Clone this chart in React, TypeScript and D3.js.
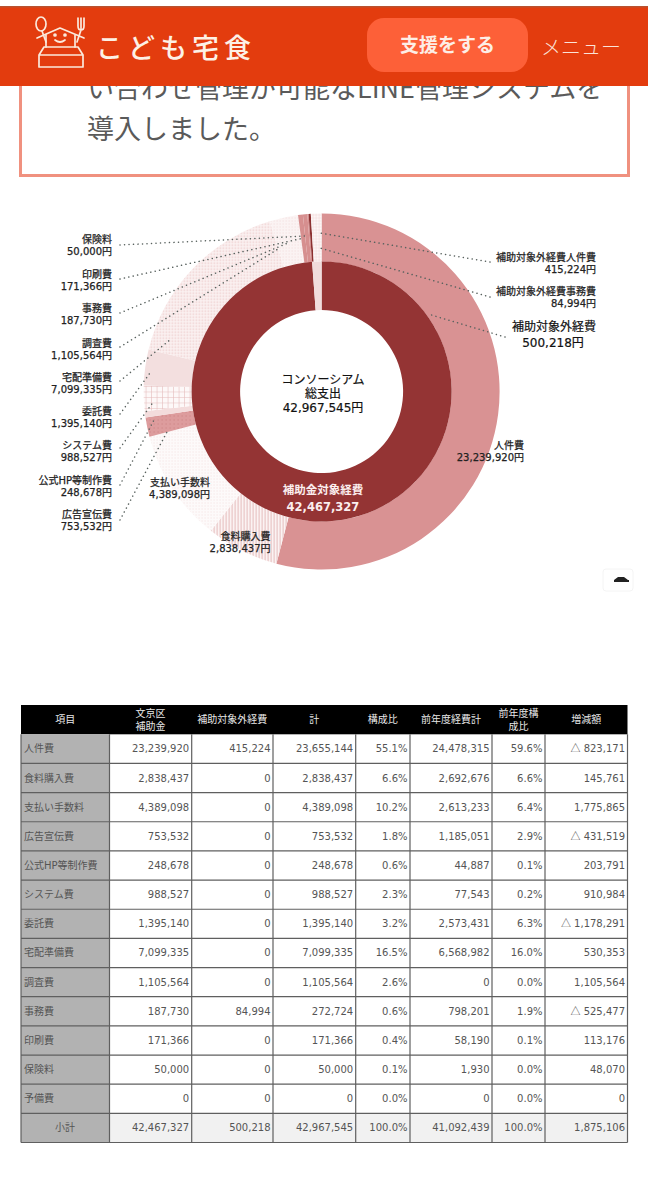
import * as d3 from "d3";

const outerNames = ["人件費", "食料購入費", "支払い手数料", "広告宣伝費", "公式HP等制作費", "システム費", "委託費", "宅配準備費", "調査費", "事務費", "印刷費", "保険料", "補助対象外経費事務費", "補助対象外経費人件費"];
const outerValues = [23239920, 2838437, 4389098, 753532, 248678, 988527, 1395140, 7099335, 1105564, 187730, 171366, 50000, 84994, 415224];
const outerFills = ["#d99293", "url(#stripes)", "url(#fineDots)", "url(#adDots)", "#f3dcdc", "url(#grid)", "#f3dfdf", "url(#checkDots)", "url(#surveyDots)", "#d68f8f", "#d68f8f", "#d68f8f", "#8c3030", "url(#paleGrid)"];

const innerNames = ["補助金対象経費", "補助対象外経費"];
const innerValues = [42467327, 500218];
const innerFills = ["#943434", "#f1dcdc"];

const tableHeaders = [["項目"], ["文京区", "補助金"], ["補助対象外経費"], ["計"], ["構成比"], ["前年度経費計"], ["前年度構", "成比"], ["増減額"]];
const tableRows = [
  ["人件費", "23,239,920", "415,224", "23,655,144", "55.1%", "24,478,315", "59.6%", "△ 823,171"],
  ["食料購入費", "2,838,437", "0", "2,838,437", "6.6%", "2,692,676", "6.6%", "145,761"],
  ["支払い手数料", "4,389,098", "0", "4,389,098", "10.2%", "2,613,233", "6.4%", "1,775,865"],
  ["広告宣伝費", "753,532", "0", "753,532", "1.8%", "1,185,051", "2.9%", "△ 431,519"],
  ["公式HP等制作費", "248,678", "0", "248,678", "0.6%", "44,887", "0.1%", "203,791"],
  ["システム費", "988,527", "0", "988,527", "2.3%", "77,543", "0.2%", "910,984"],
  ["委託費", "1,395,140", "0", "1,395,140", "3.2%", "2,573,431", "6.3%", "△ 1,178,291"],
  ["宅配準備費", "7,099,335", "0", "7,099,335", "16.5%", "6,568,982", "16.0%", "530,353"],
  ["調査費", "1,105,564", "0", "1,105,564", "2.6%", "0", "0.0%", "1,105,564"],
  ["事務費", "187,730", "84,994", "272,724", "0.6%", "798,201", "1.9%", "△ 525,477"],
  ["印刷費", "171,366", "0", "171,366", "0.4%", "58,190", "0.1%", "113,176"],
  ["保険料", "50,000", "0", "50,000", "0.1%", "1,930", "0.0%", "48,070"],
  ["予備費", "0", "0", "0", "0.0%", "0", "0.0%", "0"],
  ["小計", "42,467,327", "500,218", "42,967,545", "100.0%", "41,092,439", "100.0%", "1,875,106"],
];

const font = "'DejaVu Sans','Noto Sans CJK JP',sans-serif";
const jp = "'Noto Sans CJK JP',sans-serif";
const cx = 321.6;
const cy = 391.5;

const pie = d3.pie<number>().sort(null).value((d) => d);
const outerArc = d3.arc<d3.PieArcDatum<number>>().innerRadius(130).outerRadius(178);
const innerArc = d3.arc<d3.PieArcDatum<number>>().innerRadius(81.5).outerRadius(130);

// label blocks: name, amount, first line y, where the dotted leader starts and where it lands on the ring
const leftLabels = [
  { name: "保険料", amount: "50,000円", y: 243, leader: [120, 245], to: [305, 236] },
  { name: "印刷費", amount: "171,366円", y: 278, leader: [120, 279], to: [304, 238] },
  { name: "事務費", amount: "187,730円", y: 312, leader: [120, 313], to: [288, 243] },
  { name: "調査費", amount: "1,105,564円", y: 347, leader: [120, 347], to: [278, 249] },
  { name: "宅配準備費", amount: "7,099,335円", y: 381, leader: [120, 381], to: [171, 339] },
  { name: "委託費", amount: "1,395,140円", y: 415, leader: [120, 414], to: [150, 373] },
  { name: "システム費", amount: "988,527円", y: 449, leader: [120, 448], to: [154, 401] },
  { name: "公式HP等制作費", amount: "248,678円", y: 484, leader: [120, 485], to: [155, 418] },
  { name: "広告宣伝費", amount: "753,532円", y: 518, leader: [120, 520], to: [167, 432] },
];

const rightLeaders = [
  { leader: [490, 262], to: [320, 233] },
  { leader: [490, 297], to: [320, 248] },
  { leader: [505, 337], to: [428, 314] },
];

const columnEdges = [21, 109.5, 191.7, 273, 355.7, 410, 492, 545, 627.5];
const tableTop = 705;
const headerBottom = 734.3;
const tableBottom = 1142.5;

function Leader({ from, to }: { from: number[]; to: number[] }) {
  return <line x1={from[0]} y1={from[1]} x2={to[0]} y2={to[1]} stroke="#59625f" strokeWidth={1.5} strokeLinecap="round" strokeDasharray="0.1 4.4" />;
}

function Logo() {
  return (
    <g fill="none" stroke="#fbe9dc" strokeWidth={1.7} strokeLinecap="round" strokeLinejoin="round">
      <ellipse cx={41} cy={24} rx={5} ry={7} />
      <path d="M42 31 L46 42" />
      <path d="M78 18 V26 Q78 30 81 30 Q84 30 84 26 V18 M81 18 V30 L77 42" />
      <path d="M37 38 L60 28 L84 38 M46 35 V47 M75 35 V47" />
      <path d="M44 47 H78 L83 55 V67 H39 V55 Z M39 55 H83" />
      <circle cx={55} cy={35} r={1} fill="#fbe9dc" />
      <circle cx={65} cy={35} r={1} fill="#fbe9dc" />
      <path d="M55 40 Q60 44 65 40" />
    </g>
  );
}

export default function App() {
  const outer = pie(outerValues);
  const inner = pie(innerValues);
  const rowScale = d3.scaleBand<number>().domain(d3.range(tableRows.length)).range([headerBottom, tableBottom]);

  return (
    <svg width={648} height={1200} viewBox="0 0 648 1200" style={{ position: "absolute", left: 0, top: 0, background: "#fff" }}>
      <defs>
        <pattern id="stripes" width={3} height={3} patternUnits="userSpaceOnUse">
          <rect width={3} height={3} fill="#fbf3f3" />
          <rect width={1} height={3} fill="#e5bcbc" />
        </pattern>
        <pattern id="fineDots" width={3} height={3} patternUnits="userSpaceOnUse">
          <rect width={3} height={3} fill="#fdfafa" />
          <rect width={1} height={1} fill="#f2dede" />
        </pattern>
        <pattern id="surveyDots" width={3} height={3} patternUnits="userSpaceOnUse">
          <rect width={3} height={3} fill="#fbf3f3" />
          <rect width={1} height={1} fill="#f0dada" />
        </pattern>
        <pattern id="adDots" width={4} height={4} patternUnits="userSpaceOnUse">
          <rect width={4} height={4} fill="#dd9c9d" />
          <rect width={1} height={1} fill="#c97f80" />
        </pattern>
        <pattern id="grid" width={5.5} height={5.5} patternUnits="userSpaceOnUse">
          <rect width={5.5} height={5.5} fill="#fdf8f8" />
          <path d="M0 0 H5.5 M0 0 V5.5" stroke="#e3b8b8" strokeWidth={1.1} />
        </pattern>
        <pattern id="checkDots" width={3} height={3} patternUnits="userSpaceOnUse">
          <rect width={3} height={3} fill="#fbf2f2" />
          <rect width={1.4} height={1.4} fill="#ecc9c9" />
        </pattern>
        <pattern id="paleGrid" width={3} height={3} patternUnits="userSpaceOnUse">
          <rect width={3} height={3} fill="#fdf6f6" />
          <path d="M0 0 H3 M0 0 V3" stroke="#eed0d0" strokeWidth={0.8} />
        </pattern>
        <clipPath id="belowBar">
          <rect x={0} y={86} width={648} height={100} />
        </clipPath>
      </defs>

      {/* page text box cut off by the fixed header */}
      <rect x={20.5} y={20} width={608} height={155.5} fill="#fff" stroke="#f0917f" strokeWidth={3} />
      <g clipPath="url(#belowBar)" fill="#5a5a5a" fontFamily={jp} fontSize={27}>
        <text x={87} y={98}>い合わせ管理が可能なLINE管理システムを</text>
        <text x={87} y={139}>導入しました。</text>
      </g>

      <rect x={0} y={6} width={648} height={80} fill="#e33c0e" />
      <rect x={0} y={6} width={648} height={1.5} fill="#b9522f" />
      <Logo />
      <text x={96} y={58} fill="#fdf1e6" fontFamily={jp} fontWeight={500} fontSize={27} letterSpacing={5}>こども宅食</text>
      <rect x={367} y={18} width={161} height={54} rx={17} fill="#fd6038" />
      <text x={447.5} y={52} fill="#fdeee6" fontFamily={jp} fontWeight={700} fontSize={19} textAnchor="middle">支援をする</text>
      <text x={541} y={55} fill="#fbe3d8" fontFamily={jp} fontWeight={300} fontSize={20}>メニュー</text>

      {/* donut */}
      <g transform={`translate(${cx},${cy})`}>
        {outer.map((d, i) => (
          <path key={outerNames[i]} d={outerArc(d) ?? ""} fill={outerFills[i]} />
        ))}
        {inner.map((d, i) => (
          <path key={innerNames[i]} d={innerArc(d) ?? ""} fill={innerFills[i]} />
        ))}
      </g>

      {leftLabels.map((l) => (
        <Leader key={l.name} from={l.leader} to={l.to} />
      ))}
      {rightLeaders.map((l, i) => (
        <Leader key={i} from={l.leader} to={l.to} />
      ))}

      <g fontFamily={font} fontSize={10} fill="#222" stroke="#222" strokeWidth={0.25} textAnchor="end">
        {leftLabels.map((l) => (
          <g key={l.name}>
            <text x={112} y={l.y}>{l.name}</text>
            <text x={112} y={l.y + 12}>{l.amount}</text>
          </g>
        ))}
        <text x={596} y={261}>補助対象外経費人件費</text>
        <text x={596} y={273}>415,224円</text>
        <text x={596} y={295}>補助対象外経費事務費</text>
        <text x={596} y={307}>84,994円</text>
        <text x={524} y={449}>人件費</text>
        <text x={524} y={461}>23,239,920円</text>
        <text x={210} y={486}>支払い手数料</text>
        <text x={210} y={498}>4,389,098円</text>
        <text x={270.5} y={540}>食料購入費</text>
        <text x={270.5} y={552}>2,838,437円</text>
      </g>

      <g fontFamily={font} fontSize={12} fill="#111" stroke="#111" strokeWidth={0.2} textAnchor="middle">
        <text x={323} y={384}>コンソーシアム</text>
        <text x={323} y={398}>総支出</text>
        <text x={323} y={412}>42,967,545円</text>
        <text x={554} y={331}>補助対象外経費</text>
        <text x={553} y={347}>500,218円</text>
      </g>
      <g fontFamily={font} fontSize={11.5} fontWeight={700} fill="#fbeeee" textAnchor="middle">
        <text x={323} y={494}>補助金対象経費</text>
        <text x={323} y={511}>42,467,327</text>
      </g>

      {/* little page-top button */}
      <rect x={603} y={569} width={30} height={22} rx={3} fill="#fff" stroke="#f4f4f4" />
      <path d="M614 580 L618 577 H624 L628 580 H629 V582 H614 Z" fill="#222" />

      {/* table */}
      <g fontFamily={font} fontSize={10}>
        <rect x={columnEdges[0]} y={tableTop} width={columnEdges[8] - columnEdges[0]} height={headerBottom - tableTop} fill="#000" />
        {tableHeaders.map((lines, c) => {
          const mid = (columnEdges[c] + columnEdges[c + 1]) / 2;
          const first = (tableTop + headerBottom) / 2 + 3.5 - (lines.length - 1) * 6.5;
          return lines.map((line, j) => (
            <text key={line} x={mid} y={first + j * 13} fill="#e8e8e8" textAnchor="middle">{line}</text>
          ));
        })}
        {tableRows.map((row, r) => {
          const y = rowScale(r) ?? 0;
          const h = rowScale.bandwidth();
          const total = r === tableRows.length - 1;
          return (
            <g key={row[0]}>
              <rect x={columnEdges[0]} y={y} width={columnEdges[1] - columnEdges[0]} height={h} fill="#b2b2b2" />
              {total && <rect x={columnEdges[1]} y={y} width={columnEdges[8] - columnEdges[1]} height={h} fill="#f1f1f1" />}
              {row.map((cell, c) => (
                <text
                  key={c}
                  x={c === 0 ? (total ? 65 : 24) : columnEdges[c + 1] - 2.5}
                  y={y + h / 2 + 3.5}
                  fill="#555"
                  textAnchor={c === 0 ? (total ? "middle" : "start") : "end"}
                >
                  {cell.startsWith("△") ? (
                    <>
                      <tspan fontFamily={jp}>△</tspan>
                      {cell.slice(1)}
                    </>
                  ) : (
                    cell
                  )}
                </text>
              ))}
            </g>
          );
        })}
        <g stroke="#5f5f5f" strokeWidth={1.2}>
          {rowScale.domain().map((r) => (
            <line key={r} x1={columnEdges[0]} x2={columnEdges[8]} y1={(rowScale(r) ?? 0) + rowScale.bandwidth()} y2={(rowScale(r) ?? 0) + rowScale.bandwidth()} />
          ))}
          {columnEdges.map((x) => (
            <line key={x} x1={x} x2={x} y1={headerBottom} y2={tableBottom} />
          ))}
        </g>
      </g>
    </svg>
  );
}
